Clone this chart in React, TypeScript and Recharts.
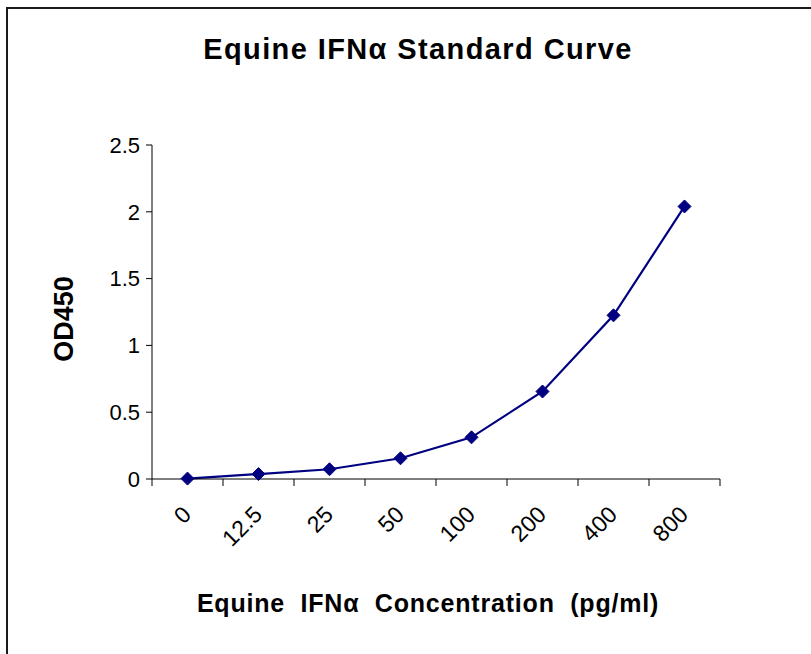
import { LineChart, Line, XAxis, YAxis } from 'recharts';

const concentrations = ['0', '12.5', '25', '50', '100', '200', '400', '800'];
const od450 = [0.003, 0.037, 0.073, 0.155, 0.312, 0.655, 1.225, 2.04];
const yTicks = [0, 0.5, 1, 1.5, 2, 2.5];

const data = concentrations.map((c, i) => ({ conc: c, od: od450[i] }));

const W = 811;
const H = 654;
const MARGIN = { top: 145, right: 91, bottom: 0, left: 0 };
const Y_AXIS_W = 152;
const PLOT_W = W - MARGIN.left - MARGIN.right - Y_AXIS_W;
const FONT = '"Liberation Sans", Arial, sans-serif';
const NAVY = '#000080';

const Diamond = (props: any) => {
  const { cx, cy } = props;
  if (cx == null || cy == null) return null;
  const r = 6.5;
  return (
    <polygon
      points={`${cx},${cy - r} ${cx + r},${cy} ${cx},${cy + r} ${cx - r},${cy}`}
      fill={NAVY}
      stroke={NAVY}
      strokeWidth={1}
      strokeLinejoin="round"
    />
  );
};

// Excel style: tick marks sit between categories, labels at centers
const CatTick = (props: any) => {
  const { x, y, payload, index } = props;
  const bw = PLOT_W / concentrations.length;
  const left = x - bw / 2;
  const ax = x + 5;
  const ay = y + 37;
  return (
    <g>
      <line x1={left} y1={y} x2={left} y2={y + 7} stroke="#000" strokeWidth={1} />
      {index === concentrations.length - 1 && (
        <line x1={x + bw / 2} y1={y} x2={x + bw / 2} y2={y + 7} stroke="#000" strokeWidth={1} />
      )}
      <text
        x={ax}
        y={ay}
        transform={`rotate(-45, ${ax}, ${ay})`}
        textAnchor="end"
        fontFamily={FONT}
        fontSize={23}
        fill="#000"
      >
        {payload.value}
      </text>
    </g>
  );
};

const YTitle = (props: any) => {
  const vb = props.viewBox || { x: 0, y: MARGIN.top, width: Y_AXIS_W, height: 334 };
  const cx = vb.x + 73;
  const cy = vb.y + vb.height / 2 + 7;
  return (
    <text
      x={cx}
      y={cy}
      transform={`rotate(-90, ${cx}, ${cy})`}
      textAnchor="middle"
      fontFamily={FONT}
      fontWeight={700}
      fontSize={27}
      fill="#000"
    >
      OD450
    </text>
  );
};

export default function App() {
  return (
    <div style={{ position: 'absolute', left: 0, top: 0, width: W, height: H, overflow: 'hidden', background: '#fff' }}>
      <div
        style={{
          position: 'absolute',
          left: 6,
          top: 7,
          width: 1000,
          height: 1000,
          borderTop: '2px solid #1a1a1a',
          borderLeft: '2px solid #1a1a1a',
        }}
      />
      <div
        style={{
          position: 'absolute',
          left: 0,
          top: 33,
          width: 836,
          textAlign: 'center',
          fontFamily: FONT,
          fontWeight: 700,
          fontSize: 29,
          letterSpacing: 1.4,
          color: '#000',
        }}
      >
        Equine IFNα Standard Curve
      </div>
      <div style={{ position: 'absolute', left: 0, top: 0 }}>
        <LineChart width={W} height={H} data={data} margin={MARGIN}>
          <XAxis
            dataKey="conc"
            scale="band"
            interval={0}
            height={H - 479}
            tickSize={0}
            tickMargin={0}
            tickLine={false}
            axisLine={{ stroke: '#000', strokeWidth: 1 }}
            tick={<CatTick />}
            label={{
              value: 'Equine\u00a0 IFNα\u00a0 Concentration\u00a0 (pg/ml)',
              position: 'insideBottom',
              offset: 42,
              dx: -8,
              style: { fontFamily: FONT, fontWeight: 700, fontSize: 25, letterSpacing: 0.8, fill: '#000' },
            }}
          />
          <YAxis
            domain={[0, 2.5]}
            ticks={yTicks}
            width={Y_AXIS_W}
            tickSize={6}
            tickMargin={6}
            tickLine={{ stroke: '#000' }}
            axisLine={{ stroke: '#000', strokeWidth: 1 }}
            tick={{ fontFamily: FONT, fontSize: 22, fill: '#000' }}
            label={<YTitle />}
          />
          <Line
            type="linear"
            dataKey="od"
            stroke={NAVY}
            strokeWidth={2.2}
            dot={<Diamond />}
            activeDot={false}
            isAnimationActive={false}
          />
        </LineChart>
      </div>
    </div>
  );
}
